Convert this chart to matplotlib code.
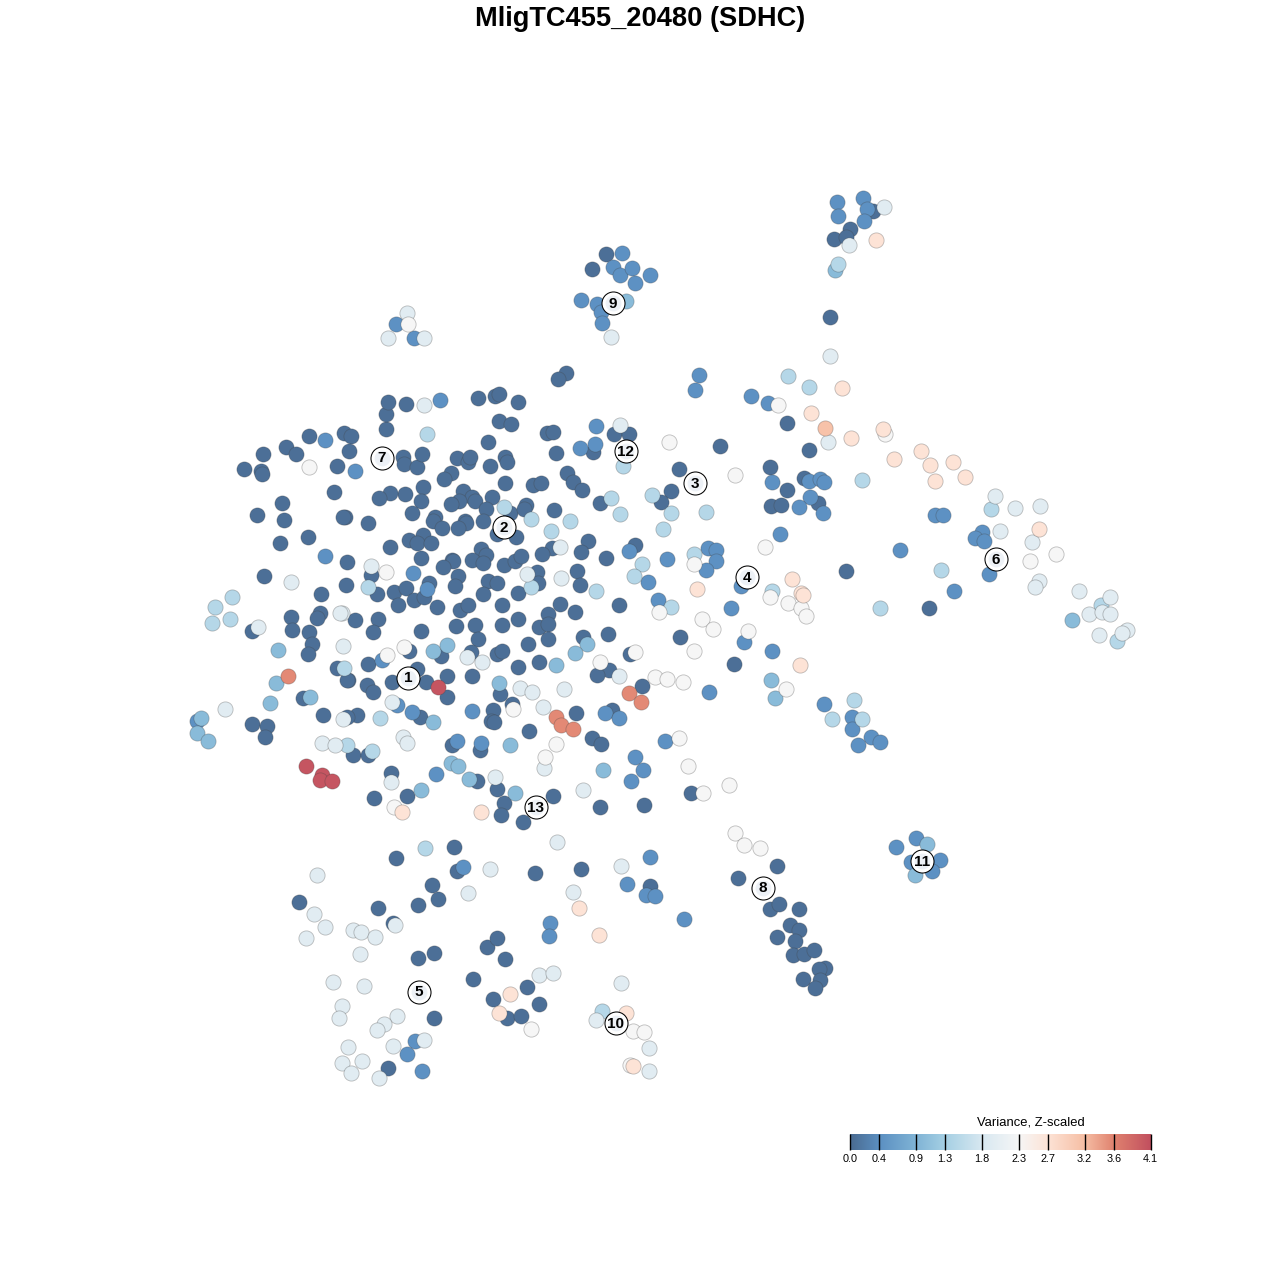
import numpy as np
import matplotlib
matplotlib.use("Agg")
import matplotlib.pyplot as plt
from matplotlib.colors import LinearSegmentedColormap

plt.rcParams['font.family'] = ['Liberation Sans', 'DejaVu Sans']

title = "MligTC455_20480 (SDHC)"
legend_title = "Variance, Z-scaled"
tick_values = [0.0, 0.4, 0.9, 1.3, 1.8, 2.3, 2.7, 3.2, 3.6, 4.1]
tick_colors = ["#4a6b91", "#5c90c2", "#80b4d6", "#a6d0e4", "#d8e8f1", "#f6f6f6",
               "#fde3d6", "#f6bea4", "#e0826f", "#c2505f"]

# points, grouped by variance
dark = [(386,429),(386,414),(344,433),(351,436),(349,451),(403,457),(404,464),(417,467),(422,454),
        (457,458),(468,462),(470,457),(451,473),(444,479),(490,466),(505,457),(507,462),(488,442),
        (547,433),(553,432),(593,452),(556,453),(567,473),(573,482),(582,490),(505,483),(533,485),
        (541,483),(423,487),(405,494),(390,493),(379,498),(421,501),(412,513),(368,523),(345,517),
        (463,491),(472,497),(475,501),(459,501),(451,504),(492,497),(486,509),(483,521),(435,517),
        (433,521),(442,528),(465,521),(466,523),(458,528),(510,513),(526,505),(524,509),(554,510),
        (497,534),(516,537),(600,503),(588,541),(581,552),(552,548),(542,554),(423,535),(409,540),
        (417,543),(431,543),(390,547),(421,558),(347,562),(481,549),(486,555),(472,560),(483,563),
        (452,560),(453,561),(443,567),(504,565),(515,561),(521,556),(371,575),(458,576),(455,586),
        (488,581),(497,583),(537,572),(538,583),(577,571),(580,585),(346,585),(377,594),(394,592),
        (406,588),(429,583),(414,600),(424,597),(398,605),(437,607),(460,610),(468,605),(483,594),
        (502,605),(518,593),(560,604),(548,614),(575,612),(355,620),(378,619),(373,632),(421,631),
        (456,626),(475,625),(478,639),(502,625),(518,619),(528,644),(539,627),(548,624),(548,639),
        (619,605),(608,634),(583,637),(630,654),(409,651),(441,656),(471,652),(497,654),(502,651),
        (368,664),(518,667),(539,662),(609,670),(597,675),(417,669),(392,682),(426,682),(447,676),
        (472,676),(500,694),(642,686),(348,680),(367,685),(373,692),(447,697),(512,704),(576,713),
        (612,710),(493,710),(420,717),(357,715),(347,717),(491,721),(494,722),(529,731),(592,738),
        (601,744),(480,750),(452,745),(353,755),(368,755),(391,773),(477,781),(407,796),(497,789),
        (504,803),(501,815),(523,822),(553,796),(600,807),(644,805),(374,798),
        (566,373),(558,379),(478,398),(495,396),(499,394),(518,402),(388,402),(406,404),(499,421),
        (511,424),(614,434),(629,434),(309,436),(286,447),(296,454),(263,454),(244,469),(261,471),
        (262,474),(337,466),(787,423),(809,450),(720,446),(679,469),(671,491),(661,502),(770,467),
        (787,490),(804,478),(818,503),(771,506),(781,505),(635,545),(606,558),(680,637),(734,664),
        (830,317),(873,211),(850,229),(834,239),(846,237),(846,571),(929,608),(691,793),
        (777,866),(738,878),(770,909),(779,904),(799,909),(790,925),(799,930),(777,937),(795,941),
        (793,955),(804,954),(814,950),(825,968),(819,969),(803,979),(820,980),(815,988),
        (454,847),(396,858),(457,871),(535,873),(581,869),(650,886),(432,885),(418,905),(438,899),
        (378,908),(393,923),(299,902),(487,947),(497,938),(505,959),(434,953),(418,958),(473,979),
        (527,987),(493,999),(539,1004),(507,1018),(521,1016),(434,1018),(388,1068),
        (252,631),(264,576),(291,617),(292,630),(321,594),(320,613),(317,618),(309,632),(308,537),
        (280,543),(284,520),(257,515),(282,503),(334,492),(343,517),(312,644),(308,654),
        (337,668),(347,680),(303,698),(252,724),(267,726),(265,737),(323,715),(606,254),(592,269)]
medium = [(355,471),(580,448),(595,444),(413,573),(427,589),(382,660),(397,705),(412,712),(472,711),
          (605,713),(619,718),(481,743),(457,741),(635,757),(643,770),(631,781),(436,774),(440,400),
          (596,426),(325,440),(772,482),(809,481),(820,479),(824,482),(810,497),(799,507),(823,513),
          (780,534),(708,548),(716,550),(716,561),(706,570),(629,551),(667,559),(648,582),(658,600),
          (741,586),(731,608),(744,642),(772,651),(709,692),(699,375),(695,390),(751,396),(768,403),
          (837,202),(863,198),(867,209),(838,216),(864,221),(622,253),(613,267),(620,275),(632,268),
          (650,275),(635,283),(581,300),(597,304),(601,312),(602,323),(396,324),(414,338),(900,550),
          (954,591),(935,515),(943,515),(982,532),(975,538),(984,541),(989,574),(824,704),(852,717),
          (852,729),(871,737),(880,742),(858,745),(665,741),(916,838),(896,847),(911,862),(940,860),
          (932,871),(463,867),(650,857),(627,884),(646,895),(655,896),(550,923),(549,936),(684,919),
          (415,1041),(407,1054),(422,1071),(325,556),(197,721)]
lightmed = [(587,644),(575,653),(433,651),(447,645),(499,683),(433,722),(469,779),(515,793),(603,770),
            (556,665),(771,680),(775,698),(626,301),(835,270),(1072,620),(927,844),(915,875),(278,650),
            (276,683),(310,697),(270,703),(201,718),(197,733),(208,741),(510,745),(451,763),(458,766),
            (421,790)]
light = [(427,434),(531,587),(531,519),(551,531),(570,521),(504,507),(368,587),(596,591),(380,718),
         (347,745),(372,751),(623,466),(652,495),(611,498),(620,514),(671,513),(663,529),(706,512),
         (642,564),(634,576),(671,607),(694,554),(772,591),(880,608),(941,570),(788,376),(809,387),
         (862,480),(838,264),(991,509),(1101,605),(1117,641),(854,700),(832,719),(862,719),(425,848),
         (602,1011),(232,597),(215,607),(212,623),(230,619),(344,668)]
pale = [(342,613),(343,646),(343,719),(371,566),(527,574),(561,578),(560,547),(467,657),(482,662),
        (392,702),(520,688),(532,692),(564,689),(619,676),(543,707),(403,737),(407,743),(544,768),
        (391,782),(495,777),(583,790),(557,842),(424,405),(291,582),(340,613),(258,627),(225,709),
        (322,743),(335,745),(830,356),(884,207),(849,245),(828,442),(611,337),(407,313),(388,338),
        (424,338),(995,496),(1015,508),(1040,506),(1000,531),(1032,542),(1039,581),(1035,587),
        (1079,591),(1110,597),(1089,614),(1102,612),(1110,614),(1127,630),(1122,633),(1099,635),
        (620,425),(490,869),(621,866),(573,892),(468,893),(395,925),(317,875),(314,914),(325,927),
        (306,938),(353,930),(361,932),(375,937),(360,954),(539,975),(553,973),(333,982),(364,986),
        (342,1006),(339,1018),(397,1016),(384,1024),(377,1030),(424,1040),(393,1046),(348,1047),
        (342,1063),(362,1061),(351,1073),(379,1078),(621,983),(596,1020),(649,1048),(649,1071)]
offwhite = [(386,572),(404,647),(387,655),(635,652),(600,662),(655,677),(513,709),(556,744),(545,757),
            (394,807),(408,324),(669,442),(778,405),(309,467),(735,475),(765,547),(694,564),(659,612),
            (702,619),(713,629),(748,631),(694,651),(786,689),(683,682),(667,679),(770,597),(788,603),
            (801,608),(806,616),(1056,554),(1030,561),(679,738),(688,766),(703,793),(729,785),(735,833),
            (744,845),(760,848),(531,1029),(633,1031),(644,1032),(630,1065),(885,434)]
peach = [(402,812),(481,812),(876,240),(842,388),(811,413),(851,438),(883,429),(894,459),(921,451),
         (930,465),(935,481),(697,589),(1039,529),(800,665),(579,908),(599,935),(510,994),(499,1013),
         (633,1066),(626,1013),(792,579),(801,593),(803,595),(953,462),(965,477)]
orange = [(824,427)]
salmon = [(629,693),(641,702),(556,717),(561,725),(573,729),(288,676)]
red = [(438,687),(306,766),(322,775),(320,780),(332,781)]

groups = [(dark, 0.05), (medium, 0.42), (lightmed, 1.0), (light, 1.45), (pale, 1.95),
          (offwhite, 2.3), (peach, 2.7), (orange, 3.15), (salmon, 3.55), (red, 4.05)]

label_names = ["1", "2", "3", "4", "5", "6", "7", "8", "9", "10", "11", "12", "13"]
label_x = [408, 504, 695, 747, 419, 996, 382, 763, 613, 616, 922, 626, 536]
label_y = [678, 527, 483, 577, 992, 559, 458, 888, 303, 1023, 861, 451, 807]

cmap = LinearSegmentedColormap.from_list(
    "variance", [(v / tick_values[-1], c) for v, c in zip(tick_values, tick_colors)])

fig = plt.figure(figsize=(12.8, 12.8), dpi=100)
ax = fig.add_axes([0, 0, 1, 1])
ax.set_xlim(0, 1280)
ax.set_ylim(1280, 0)
ax.axis('off')

for pts, v in groups:
    xy = np.array(pts)
    ax.scatter(xy[:, 0] + 0.5, xy[:, 1] + 0.5, c=np.full(len(xy), v), cmap=cmap, vmin=0, vmax=4.1,
               s=120, linewidths=0.6, edgecolors=(0.25, 0.25, 0.25, 0.33))

# numbered cluster labels
ax.scatter(label_x, label_y, s=275, c='white', edgecolors='black', linewidths=0.75, zorder=5)
ax.scatter(label_x, label_y, s=130, c='#edf1f6', linewidths=0, zorder=5)
for name, lx, ly in zip(label_names, label_x, label_y):
    ax.text(lx, ly + 0.5, name, ha='center', va='center', fontsize=11, fontweight='bold', zorder=6)

ax.text(640.5, 19, title, ha='center', va='center', fontsize=19.6, fontweight='bold')

# colour bar
cax = fig.add_axes([850 / 1280, (1280 - 1150) / 1280, 300.5 / 1280, 16 / 1280])
grad = np.linspace(0, 4.1, 512).reshape(1, -1)
cax.imshow(grad, cmap=cmap, aspect='auto', extent=[0, 4.1, 0, 1], vmin=0, vmax=4.1)
for s in cax.spines.values():
    s.set_visible(False)
cax.set_yticks([])
cax.set_xticks(tick_values)
cax.set_xticklabels(["%.1f" % v for v in tick_values], fontsize=7.8)
cax.tick_params(axis='x', length=0, pad=3)
cax.vlines(tick_values, 0, 1, color='black', lw=1)
cax.set_xlim(0, 4.1)
for l in cax.collections:
    l.set_clip_on(False)
ax.text(1031, 1122.5, legend_title, ha='center', va='center', fontsize=9.4)

fig.savefig("out.png", dpi=100)
